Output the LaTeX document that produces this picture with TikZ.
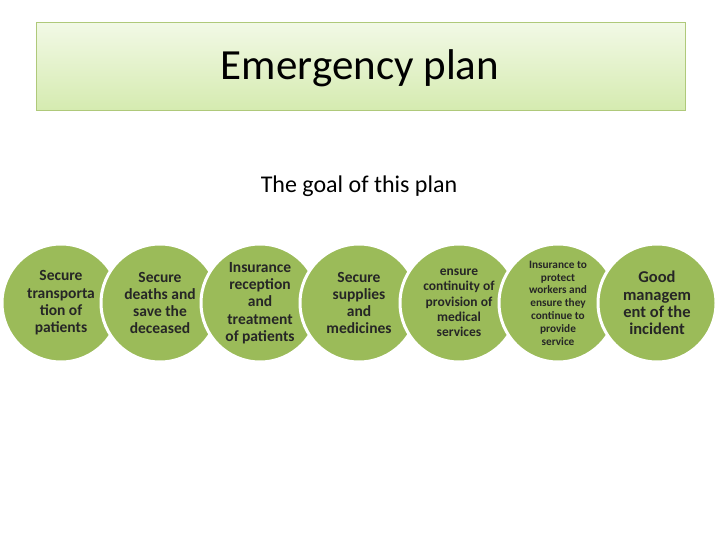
\documentclass[tikz,border=0pt]{standalone}
\usepackage{fontspec}
\setmainfont{Carlito}
\begin{document}
\begin{tikzpicture}[x=1pt,y=-1pt,
  circ/.style={circle,minimum size=118pt,fill=cgreen,draw=white,line width=3pt,align=center,inner sep=0pt},
  ctext/.style={align=center,font=\bfseries\fontsize{15.5}{17.3}\selectfont,text=black!85}]
\definecolor{cgreen}{HTML}{9BBB59}
\definecolor{tgreen1}{HTML}{F2F9E6}
\definecolor{tgreen2}{HTML}{D5EBB0}
\useasboundingbox (0,0) rectangle (720,540);
\node[draw=cgreen!80,line width=0.6pt,top color=tgreen1,bottom color=tgreen2,minimum width=649pt,minimum height=88pt,anchor=north west] (title) at (36,22) {};
\node[font=\fontsize{43}{45}\selectfont] (tt) at (360,68) {Emergency plan};
\node[font=\fontsize{24}{28}\selectfont] (sub) at (359,186) {The goal of this plan};
\foreach \i/\x in {1/61,2/160,3/260,4/359,5/459,6/558,7/657}
  \node[circ] (c\i) at (\x,303) {};
\node[ctext] (t1) at (c1) {Secure\\transporta\\tion of\\patients};
\node[ctext] (t2) at (c2) {Secure\\deaths and\\save the\\deceased};
\node[ctext] (t3) at (c3) {Insurance\\reception\\and\\treatment\\of patients};
\node[ctext] (t4) at (c4) {Secure\\supplies\\and\\medicines};
\node[ctext,font=\bfseries\fontsize{13.5}{15.3}\selectfont] (t5) at (c5) {ensure\\continuity of\\provision of\\medical\\services};
\node[ctext,font=\bfseries\fontsize{11.3}{12.8}\selectfont] (t6) at (c6) {Insurance to\\protect\\workers and\\ensure they\\continue to\\provide\\service};
\node[ctext,font=\bfseries\fontsize{16.5}{17.3}\selectfont] (t7) at (c7) {Good\\managem\\ent of the\\incident};
\end{tikzpicture}
\end{document}
